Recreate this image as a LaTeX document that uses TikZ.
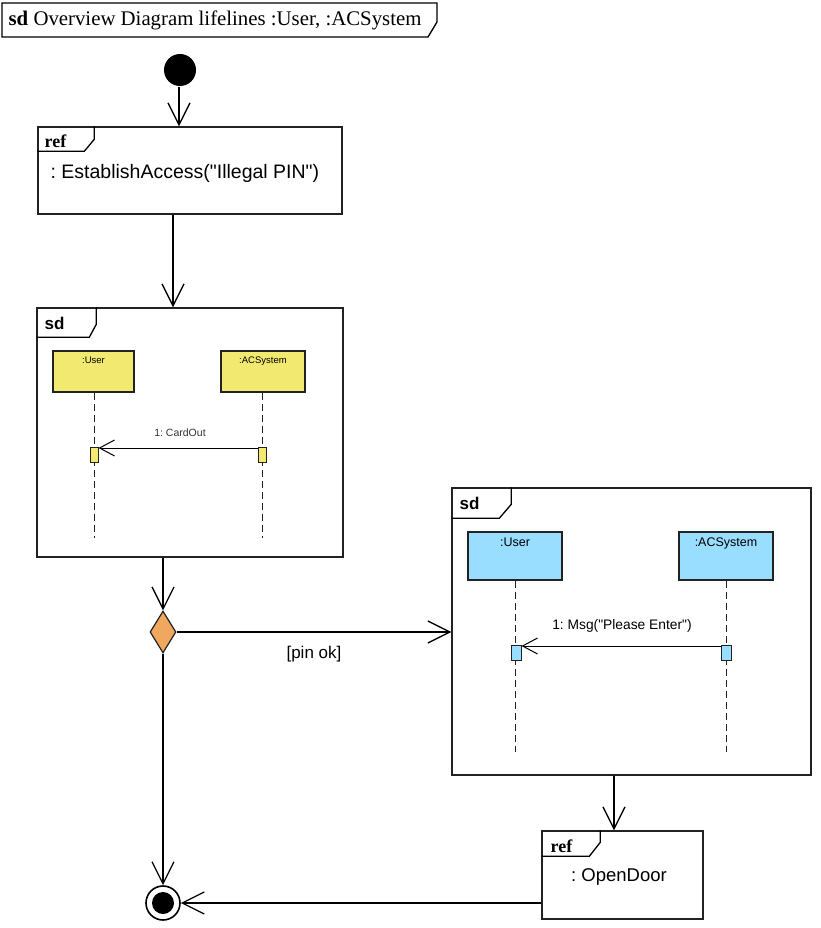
\documentclass[tikz,border=0pt]{standalone}
\usepackage{fontspec}
\setmainfont{Liberation Serif}
\setsansfont{Liberation Sans}
\usetikzlibrary{calc,arrows.meta,shapes.geometric}
\definecolor{lifeyellow}{HTML}{F2EA70}
\definecolor{lifeblue}{HTML}{99DDFF}
\definecolor{decorange}{HTML}{F0A860}
\definecolor{linegray}{HTML}{222222}
\frenchspacing
\begin{document}
\begin{tikzpicture}[x=1pt,y=-1pt,
  line width=1.3pt,
  framebox/.style={draw=linegray, line width=1.4pt, minimum width=#1, inner sep=0pt},
  flow/.style={-{Straight Barb[length=22pt,width=22pt,line width=1.3pt]}, line width=1.3pt},
  msg/.style={-{Straight Barb[length=15pt,width=16pt,line width=1pt]}, line width=1pt},
  lifebox/.style={draw=linegray, line width=1.2pt, inner sep=0pt, anchor=center},
  lifelabel/.style={font=\sffamily, inner sep=0pt, anchor=north},
  actbox/.style={draw=linegray, line width=1pt, inner sep=0pt},
  lifeline/.style={dashed, dash pattern=on 7pt off 4pt, line width=1pt, draw=linegray},
]
\useasboundingbox (0,0) rectangle (821,928);

% title frame
\draw[line width=1.3pt] (2,3) -- (437,3) -- (437,22) -- (428,37) -- (2,37) -- cycle;
\node[anchor=west, inner sep=0pt, font=\fontsize{20.8}{24}\selectfont] (title) at (8,20.5) {\textbf{sd} Overview Diagram lifelines :User, :ACSystem};

% initial node
\node[circle, fill=black, minimum size=32pt, inner sep=0pt] (init) at (180,70) {};

% ref1
\node[framebox=304pt, minimum height=87pt] (ref1) at (190,170.5) {};
\draw[line width=1.3pt] ($(ref1.north west)+(57,0)$) -- ($(ref1.north west)+(57,13)$) -- ($(ref1.north west)+(47,25)$) -- ($(ref1.north west)+(0,25)$);
\node[anchor=west, inner sep=0pt, font=\fontsize{18}{20}\selectfont\bfseries] (ref1tab) at (44,141) {ref};
\node[anchor=west, inner sep=0pt, font=\sffamily\fontsize{19.5}{22}\selectfont] (ref1txt) at (50,173) {: EstablishAccess(\textquotedbl Illegal PIN\textquotedbl)};

% sd1
\node[framebox=306pt, minimum height=249pt] (sd1) at (190,432.5) {};
\draw[line width=1.3pt] ($(sd1.north west)+(60,0)$) -- ($(sd1.north west)+(60,17)$) -- ($(sd1.north west)+(53,30)$) -- ($(sd1.north west)+(0,30)$);
\node[anchor=west, inner sep=0pt, font=\sffamily\bfseries\fontsize{17}{20}\selectfont] (sd1tab) at (44,323) {sd};
\node[lifebox, fill=lifeyellow, minimum width=81pt, minimum height=41pt] (u1) at (93.5,371.5) {};
\node[lifelabel, font=\sffamily\fontsize{9.5}{11}\selectfont] (u1l) at (u1.north) [yshift=-6pt] {:User};
\node[lifebox, fill=lifeyellow, minimum width=84pt, minimum height=41pt] (a1) at (263,371.5) {};
\node[lifelabel, font=\sffamily\fontsize{9.5}{11}\selectfont] (a1l) at (a1.north) [yshift=-6pt] {:ACSystem};
\coordinate (u1end) at (94,538);
\coordinate (a1end) at (262,538);
\draw[lifeline] (u1.south -| u1end) -- (u1end);
\draw[lifeline] (a1.south -| a1end) -- (a1end);
\node[actbox, fill=lifeyellow, minimum width=8pt, minimum height=15pt] (u1act) at (94,454.5) {};
\node[actbox, fill=lifeyellow, minimum width=8pt, minimum height=15pt] (a1act) at (262,454.5) {};
\draw[msg] (a1act.west |- 0,448) -- (u1act.east |- 0,448);
\node[font=\sffamily\fontsize{10.5}{12}\selectfont, inner sep=0pt, text=black!80] (m1l) at (180,433) {1: CardOut};

% decision
\node[diamond, draw=linegray, fill=decorange, line width=1.2pt, minimum width=26pt, minimum height=42pt, inner sep=0pt] (dec) at (163,632) {};

% sd2
\node[framebox=359pt, minimum height=287pt] (sd2) at (631.5,631.5) {};
\draw[line width=1.3pt] ($(sd2.north west)+(60,0)$) -- ($(sd2.north west)+(60,17)$) -- ($(sd2.north west)+(48,31)$) -- ($(sd2.north west)+(0,31)$);
\node[anchor=west, inner sep=0pt, font=\sffamily\bfseries\fontsize{17}{20}\selectfont] (sd2tab) at (459,503) {sd};
\node[lifebox, fill=lifeblue, minimum width=94pt, minimum height=48pt] (u2) at (515,556) {};
\node[lifelabel, font=\sffamily\fontsize{12.5}{14}\selectfont] (u2l) at (u2.north) [yshift=-6pt] {:User};
\node[lifebox, fill=lifeblue, minimum width=94pt, minimum height=48pt] (a2) at (726,556) {};
\node[lifelabel, font=\sffamily\fontsize{12.5}{14}\selectfont] (a2l) at (a2.north) [yshift=-6pt] {:ACSystem};
\coordinate (u2end) at (515,752);
\coordinate (a2end) at (726,752);
\draw[lifeline] (u2.south -| u2end) -- (u2end);
\draw[lifeline] (a2.south -| a2end) -- (a2end);
\node[actbox, fill=lifeblue, minimum width=10pt, minimum height=15pt] (u2act) at (516,652.5) {};
\node[actbox, fill=lifeblue, minimum width=10pt, minimum height=15pt] (a2act) at (726,652.5) {};
\draw[msg] (a2act.west |- 0,646) -- (u2act.east |- 0,646);
\node[font=\sffamily\fontsize{13.8}{15}\selectfont, inner sep=0pt] (m2l) at (622,626) {1: Msg(\textquotedbl Please Enter\textquotedbl)};

% ref2
\node[framebox=161pt, minimum height=88pt] (ref2) at (622.5,875) {};
\draw[line width=1.3pt] ($(ref2.north west)+(59,0)$) -- ($(ref2.north west)+(59,12)$) -- ($(ref2.north west)+(48,26)$) -- ($(ref2.north west)+(0,26)$);
\node[anchor=west, inner sep=0pt, font=\fontsize{18}{20}\selectfont\bfseries] (ref2tab) at (550,846) {ref};
\node[inner sep=0pt, font=\sffamily\fontsize{18.5}{20}\selectfont] (ref2txt) at (619,877) {: OpenDoor};

% final node
\node[circle, draw=black, line width=1.6pt, minimum size=34pt, inner sep=0pt] (fin) at (163,903) {};
\fill[black] (fin.center) circle[radius=11pt];

% connectors
\draw[flow] (init.south -| 179,0) -- (ref1.north -| 179,0);
\draw[flow] (ref1.south -| 173,0) -- (sd1.north -| 173,0);
\draw[flow] (sd1.south -| dec.north) -- (dec.north);
\draw[flow] (dec.east) -- (dec.east -| sd2.west) node[midway, below=14pt, font=\sffamily\fontsize{17}{19}\selectfont, inner sep=0pt] (guard) {[pin ok]};
\draw[flow] (dec.south) -- (fin.north);
\draw[flow] (sd2.south -| 614,0) -- (ref2.north -| 614,0);
\draw[flow] (ref2.west |- fin.east) -- (fin.east);
\end{tikzpicture}
\end{document}
